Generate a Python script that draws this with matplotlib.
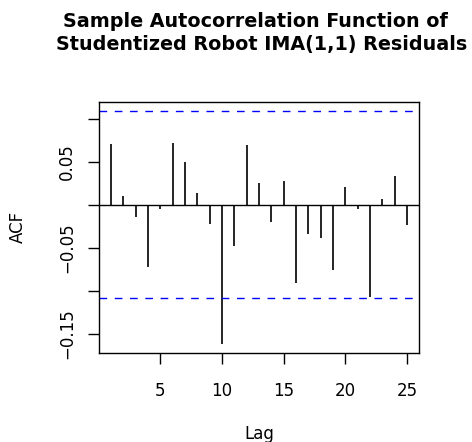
import numpy as np
import matplotlib
matplotlib.use("Agg")
import matplotlib.pyplot as plt

# Sample ACF of studentized residuals, lags 1..25
LAGS = np.arange(1, 26)
ACF = [0.0705, 0.0096, -0.0144, -0.0729, -0.0051, 0.0721, 0.0496, 0.0140,
       -0.0225, -0.1616, -0.0481, 0.0690, 0.0256, -0.0202, 0.0271, -0.0907,
       -0.0341, -0.0391, -0.0764, 0.0202, -0.0047, -0.1074, 0.0062, 0.0337,
       -0.0233]
N_OBS = 324
CI = 1.96 / np.sqrt(N_OBS)

Y_TICKS = [-0.15, -0.10, -0.05, 0.0, 0.05, 0.10]
Y_TICK_LABELS = ["\u22120.15", "", "\u22120.05", "", "0.05", ""]
X_TICKS = [5, 10, 15, 20, 25]

plt.rcParams.update({
    "font.family": ["DejaVu Sans"],
    "font.size": 12,
})

fig = plt.figure(figsize=(4.72, 4.42), dpi=100)
ax = fig.add_axes([0.2104, 0.2014, 0.6773, 0.5686])

ax.vlines(LAGS, 0, ACF, color="black", linewidth=1.2)
ax.axhline(0, color="black", linewidth=1.0)
for c in (CI, -CI):
    ax.axhline(c, color="blue", linewidth=1.0, linestyle=(0, (5.5, 5.5)))

# R-style 4% padding on both axes
lo = min(min(ACF), -CI)
hi = max(max(ACF), CI)
pad = 0.04 * (hi - lo)
ax.set_ylim(lo - pad, hi + pad)
ax.set_xlim(1 - 0.04 * 24, 25 + 0.04 * 24)

ax.set_xticks(X_TICKS)
ax.set_yticks(Y_TICKS)
ax.set_yticklabels(Y_TICK_LABELS, rotation=90, va="center")
ax.tick_params(axis="both", direction="out", length=7.7, width=1.0,
               color="black", labelsize=12)
ax.tick_params(axis="x", pad=13)
ax.tick_params(axis="y", pad=9)

for s in ax.spines.values():
    s.set_linewidth(1.0)

ax.set_xlabel("Lag", fontsize=12, va="baseline")
ax.xaxis.set_label_coords(0.5, -0.342)
ax.set_ylabel("ACF", fontsize=12, va="center")
ax.yaxis.set_label_coords(-0.256, 0.5)

fig.text(0.542, 0.939, "Sample Autocorrelation Function of",
         ha="center", va="baseline", fontsize=13.8, fontweight="bold")
fig.text(0.555, 0.886, "Studentized Robot IMA(1,1) Residuals",
         ha="center", va="baseline", fontsize=13.8, fontweight="bold")

fig.savefig("out.png", dpi=100)
